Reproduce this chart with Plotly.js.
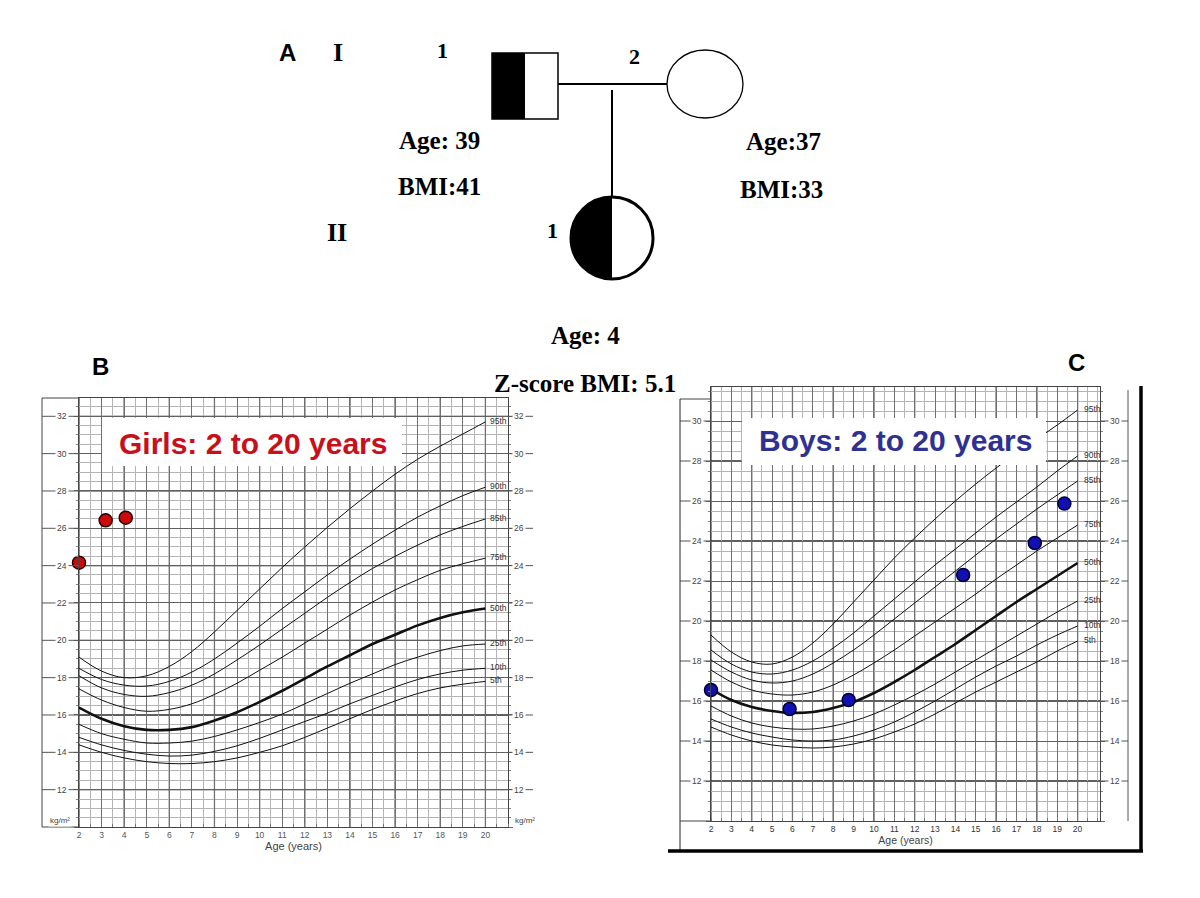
<!DOCTYPE html>
<html><head><meta charset="utf-8">
<script src="https://cdn.plot.ly/plotly-3.0.1.min.js"></script>
<style>html,body{margin:0;padding:0;background:#fff}#chart{width:1200px;height:898px}</style>
</head><body><div id="chart"></div>
<script>
// ---------- DATA ----------
const ages = [2,3,4,5,6,7,8,9,10,11,12,13,14,15,16,17,18,19,20];
const percentileNames = ['5th','10th','25th','50th','75th','85th','90th','95th'];

const girlsP5  = [14.4,14.0,13.7,13.5,13.4,13.4,13.5,13.7,14.0,14.35,14.8,15.3,15.8,16.3,16.75,17.15,17.45,17.65,17.8];
const girlsP10 = [14.8,14.4,14.1,13.9,13.8,13.85,14.05,14.35,14.75,15.2,15.65,16.1,16.6,17.05,17.5,17.9,18.2,18.4,18.5];
const girlsP25 = [15.5,15.0,14.7,14.5,14.5,14.6,14.85,15.2,15.6,16.05,16.6,17.15,17.7,18.2,18.7,19.1,19.45,19.7,19.8];
const girlsP50 = [16.4,15.8,15.4,15.2,15.2,15.35,15.7,16.15,16.7,17.3,17.95,18.6,19.2,19.8,20.3,20.8,21.2,21.5,21.7];
const girlsP75 = [17.4,16.8,16.4,16.2,16.3,16.6,17.1,17.7,18.4,19.1,19.85,20.6,21.35,22.05,22.7,23.25,23.75,24.1,24.4];
const girlsP85 = [18.1,17.45,17.1,17.0,17.2,17.6,18.2,18.95,19.75,20.6,21.45,22.3,23.1,23.85,24.5,25.1,25.65,26.1,26.5];
const girlsP90 = [18.5,17.9,17.6,17.55,17.8,18.3,19.0,19.85,20.75,21.7,22.6,23.5,24.35,25.15,25.9,26.6,27.2,27.75,28.2];
const girlsP95 = [19.1,18.35,18.0,18.1,18.6,19.4,20.45,21.6,22.75,23.9,25.0,26.05,27.05,28.0,28.9,29.7,30.4,31.05,31.7];

const boysP5  = [14.7,14.3,14.0,13.8,13.7,13.65,13.7,13.85,14.1,14.45,14.85,15.35,15.9,16.45,16.95,17.45,17.95,18.5,19.0];
const boysP10 = [15.1,14.7,14.4,14.2,14.05,14.0,14.05,14.25,14.55,14.95,15.45,16.0,16.6,17.2,17.75,18.25,18.8,19.3,19.75];
const boysP25 = [15.75,15.25,14.9,14.7,14.6,14.6,14.75,15.0,15.35,15.8,16.3,16.85,17.45,18.05,18.65,19.25,19.85,20.45,21.0];
const boysP50 = [16.6,16.05,15.7,15.5,15.4,15.45,15.65,15.95,16.4,16.95,17.55,18.2,18.85,19.55,20.25,20.95,21.6,22.25,22.9];
const boysP75 = [17.55,16.95,16.55,16.35,16.3,16.45,16.8,17.3,17.9,18.55,19.25,19.95,20.65,21.35,22.1,22.8,23.5,24.15,24.8];
const boysP85 = [18.05,17.45,17.05,16.9,17.0,17.35,17.9,18.55,19.3,20.1,20.9,21.7,22.5,23.3,24.1,24.85,25.6,26.3,27.0];
const boysP90 = [18.55,17.85,17.45,17.35,17.55,18.0,18.65,19.4,20.25,21.1,21.95,22.8,23.6,24.4,25.2,25.95,26.7,27.5,28.25];
const boysP95 = [19.3,18.45,17.95,17.85,18.2,18.9,19.85,20.95,22.05,23.15,24.15,25.1,26.0,26.85,27.65,28.4,29.1,29.8,30.55];

// Patient measurements
const girlsPointAge = [2.0, 3.18, 4.07];
const girlsPointBMI = [24.16, 26.43, 26.57];
const boysPointAge = [2.0, 5.86, 8.76, 14.38, 17.9, 19.35];
const boysPointBMI = [16.55, 15.6, 16.05, 22.3, 23.9, 25.87];

const xTickVals = ages;
const girlsYTicks = [12,14,16,18,20,22,24,26,28,30,32];
const boysYTicks = [12,14,16,18,20,22,24,26,28,30];
const heavyYLines = [12,16,20,24,28,32];
const heavyXLines = [2,4,6,8,10,12,14,16,18,20];

const girlsSeries = [girlsP5,girlsP10,girlsP25,girlsP50,girlsP75,girlsP85,girlsP90,girlsP95];
const boysSeries = [boysP5,boysP10,boysP25,boysP50,boysP75,boysP85,boysP90,boysP95];

// ---------- HELPERS ----------
const PX = x => x/1200;
const PY = y => 1 - y/898;
const gridDark = '#707070', gridLight = '#b4b4b4', tickGrey = '#555';

const traces = [];
function addCurves(series, xa, ya){
  series.forEach((s,i)=>{
    traces.push({x: ages, y: s, xaxis: xa, yaxis: ya, mode:'lines', hoverinfo:'skip', showlegend:false,
      line:{color:'#111', width: percentileNames[i]==='50th' ? 2.6 : 1, shape:'spline', smoothing:1}});
  });
}
addCurves(girlsSeries,'x','y');
addCurves(boysSeries,'x2','y2');
traces.push({x: girlsPointAge, y: girlsPointBMI, xaxis:'x', yaxis:'y', mode:'markers', hoverinfo:'skip', showlegend:false,
  marker:{size:13, color:'#cc0a0a', line:{color:'#2a0000', width:1.5}}, cliponaxis:false});
traces.push({x: boysPointAge, y: boysPointBMI, xaxis:'x2', yaxis:'y2', mode:'markers', hoverinfo:'skip', showlegend:false,
  marker:{size:13, color:'#1010b4', line:{color:'#000033', width:1.5}}, cliponaxis:false});

function xAxisCfg(domain, range){
  return {domain, range, tickmode:'array', tickvals:xTickVals,
    showgrid:true, gridcolor:gridDark, gridwidth:1, zeroline:false, showline:true, linecolor:'#444', linewidth:1,
    mirror:true, ticks:'', tickfont:{family:'Liberation Sans', size:8.5, color:tickGrey},
    minor:{dtick:0.5, tick0:2, showgrid:true, gridcolor:gridLight, gridwidth:1, ticks:'inside', ticklen:3, tickcolor:'#777'},
    fixedrange:true};
}
function yAxisCfg(domain, range){
  return {domain, range, dtick:2, tick0:10, showgrid:true, gridcolor:'#606060', gridwidth:1, zeroline:false,
    showline:true, linecolor:'#444', linewidth:1, mirror:'allticks', ticks:'outside', ticklen:4, tickcolor:'#666',
    showticklabels:false,
    minor:{dtick:0.5, tick0:10, showgrid:true, gridcolor:gridLight, gridwidth:1, ticks:'outside', ticklen:2, tickcolor:'#888'},
    fixedrange:true};
}

const xa = xAxisCfg([79/1200, 508/1200],[2,21]); xa.anchor='y';
xa.title={text:'Age (years)', font:{family:'Liberation Sans', size:11, color:'#444'}, standoff:2};
const ya = yAxisCfg([1-827/898, 1-398/898],[10,32.98]); ya.anchor='x';
const xb = xAxisCfg([711/1200, 1100/1200],[2,21.1]); xb.anchor='y2';
xb.title={text:'Age (years)', font:{family:'Liberation Sans', size:10.5, color:'#444'}, standoff:0};
xb.tickfont={family:'Liberation Sans', size:8.5, color:'#333'};
const yb = yAxisCfg([1-821/898, 1-387/898],[10,31.7]); yb.anchor='x2';

const shapes = [];
const annotations = [];

// heavier grid lines (every 4 units of BMI, every 2 years)
function heavyGrid(xref, yref, xmin, xmax, ymin, ymax){
  heavyYLines.filter(v=>v<=ymax).forEach(v=>shapes.push({type:'line', xref, yref, x0:xmin, x1:xmax, y0:v, y1:v, layer:'below', line:{color:'#2a2a2a', width:1.3}}));
  heavyXLines.forEach(v=>shapes.push({type:'line', xref, yref, x0:v, x1:v, y0:ymin, y1:ymax, layer:'below', line:{color:'#3a3a3a', width:1.2}}));
}
heavyGrid('x','y',2,21,10,32.98);
heavyGrid('x2','y2',2,21.1,10,31.7);

// y tick labels in margin panels, with gridline dashes
function yLabels(ticks, yref, leftA, leftB, leftLab, rightA, rightB, rightLab){
  ticks.forEach(v=>{
    shapes.push({type:'line', xref:'paper', yref, x0:PX(leftA), x1:PX(leftB), y0:v, y1:v, line:{color:'#555', width:1}});
    shapes.push({type:'line', xref:'paper', yref, x0:PX(rightA), x1:PX(rightB), y0:v, y1:v, line:{color:'#555', width:1}});
    annotations.push({xref:'paper', yref, x:PX(leftLab), y:v, text:String(v), showarrow:false, bgcolor:'#fff', borderpad:1,
      font:{family:'Liberation Sans', size:8.5, color:'#444'}, xanchor:'center', yanchor:'middle'});
    annotations.push({xref:'paper', yref, x:PX(rightLab), y:v, text:String(v), showarrow:false, bgcolor:'#fff', borderpad:1,
      font:{family:'Liberation Sans', size:8.5, color:'#444'}, xanchor:'center', yanchor:'middle'});
  });
}
yLabels(girlsYTicks,'y',42,79,62,508,533,519);
yLabels(boysYTicks,'y2',680,711,697,1100,1128,1115);

// percentile labels
function pLabels(series, yref, xpx){
  series.forEach((s,i)=>{
    annotations.push({xref:'paper', yref, x:PX(xpx), y:s[s.length-1], text:percentileNames[i], showarrow:false,
      font:{family:'Liberation Sans', size:8.5, color:'#333'}, xanchor:'left', yanchor:'middle', yshift:1});
  });
}
pLabels(girlsSeries,'y',488);
pLabels(boysSeries,'y2',1082);

// chart frames
const L = (x0,y0,x1,y1,w,c)=>shapes.push({type:'line', xref:'paper', yref:'paper', x0:PX(x0), y0:PY(y0), x1:PX(x1), y1:PY(y1), line:{color:c||'#444', width:w||1}});
L(42,398,79,398); L(42,398,42,827); L(42,827,79,827);
L(680,399,711,399); L(680,399,680,851,1,'#222'); L(680,821,711,821);
L(1128,390,1128,821,1,'#555');
L(668,851,1143,851,3.5,'#000'); L(1141,386,1141,852,3.5,'#000');

// kg/m2 labels
annotations.push({xref:'paper', yref:'paper', x:PX(60), y:PY(820), text:'kg/m²', showarrow:false, bgcolor:'#fff',
  font:{family:'Liberation Sans', size:8, color:'#444'}, xanchor:'center', yanchor:'middle'});
annotations.push({xref:'paper', yref:'paper', x:PX(525), y:PY(820), text:'kg/m²', showarrow:false, bgcolor:'#fff',
  font:{family:'Liberation Sans', size:8, color:'#444'}, xanchor:'center', yanchor:'middle'});

// title boxes
shapes.push({type:'rect', xref:'paper', yref:'paper', x0:PX(102), x1:PX(402), y0:PY(418), y1:PY(466), fillcolor:'#fff', line:{width:0}, layer:'above'});
shapes.push({type:'rect', xref:'paper', yref:'paper', x0:PX(742), x1:PX(1046), y0:PY(418), y1:PY(465), fillcolor:'#fff', line:{width:0}, layer:'above'});
annotations.push({xref:'paper', yref:'paper', x:PX(253), y:PY(443), text:'<b>Girls: 2 to 20 years</b>', showarrow:false,
  font:{family:'Liberation Sans', size:30, color:'#c8101a'}, xanchor:'center', yanchor:'middle'});
annotations.push({xref:'paper', yref:'paper', x:PX(895), y:PY(441), text:'<b>Boys: 2 to 20 years</b>', showarrow:false,
  font:{family:'Liberation Sans', size:30, color:'#2e3192'}, xanchor:'center', yanchor:'middle'});

// ---------- PEDIGREE ----------
shapes.push({type:'rect', xref:'paper', yref:'paper', x0:PX(492), x1:PX(525), y0:PY(53), y1:PY(119), fillcolor:'#000', line:{width:0}});
shapes.push({type:'rect', xref:'paper', yref:'paper', x0:PX(492), x1:PX(558), y0:PY(53), y1:PY(119), line:{color:'#000', width:1.5}});
L(558,84,667,84,2,'#000');
shapes.push({type:'circle', xref:'paper', yref:'paper', x0:PX(667), x1:PX(743), y0:PY(50), y1:PY(118), line:{color:'#000', width:1.3}});
L(612,90,612,198,2,'#000');
(function(){
  const cx=612, cy=238, r=41; let p='';
  for(let k=0;k<=60;k++){ const a=Math.PI/2 + Math.PI*k/60; const x=cx+r*Math.cos(a), y=cy-r*Math.sin(a);
    p += (k===0?'M ':' L ')+PX(x).toFixed(5)+','+PY(y).toFixed(5); }
  p+=' Z';
  shapes.push({type:'path', xref:'paper', yref:'paper', path:p, fillcolor:'#000', line:{width:0}});
  shapes.push({type:'circle', xref:'paper', yref:'paper', x0:PX(cx-r), x1:PX(cx+r), y0:PY(cy+r), y1:PY(cy-r), line:{color:'#000', width:3}});
})();
const T = (x,y,t,size,fam)=>annotations.push({xref:'paper', yref:'paper', x:PX(x), y:PY(y), text:'<b>'+t+'</b>', showarrow:false,
  font:{family:fam||'Liberation Serif', size:size||25, color:'#000'}, xanchor:'center', yanchor:'middle'});
T(287,53,'A',24,'Liberation Sans'); T(338,53,'I',26); T(442,50,'1',22); T(634,56,'2',22);
T(439,140,'Age: 39',25); T(439,187,'BMI:41',25); T(783,142,'Age:37',25); T(782,189,'BMI:33',25);
T(337,232,'II',26); T(552,230,'1',22);
T(585,335,'Age: 4',25); T(585,383,'Z-score BMI: 5.1',25);
T(100,366,'B',24,'Liberation Sans'); T(1076,363,'C',24,'Liberation Sans');

const layout = {width:1200, height:898, margin:{l:0,r:0,t:0,b:0}, paper_bgcolor:'#fff', plot_bgcolor:'#fff',
  showlegend:false, xaxis:xa, yaxis:ya, xaxis2:xb, yaxis2:yb, shapes, annotations, hovermode:false};
Plotly.newPlot('chart', traces, layout, {staticPlot:true, displayModeBar:false});
</script></body></html>
